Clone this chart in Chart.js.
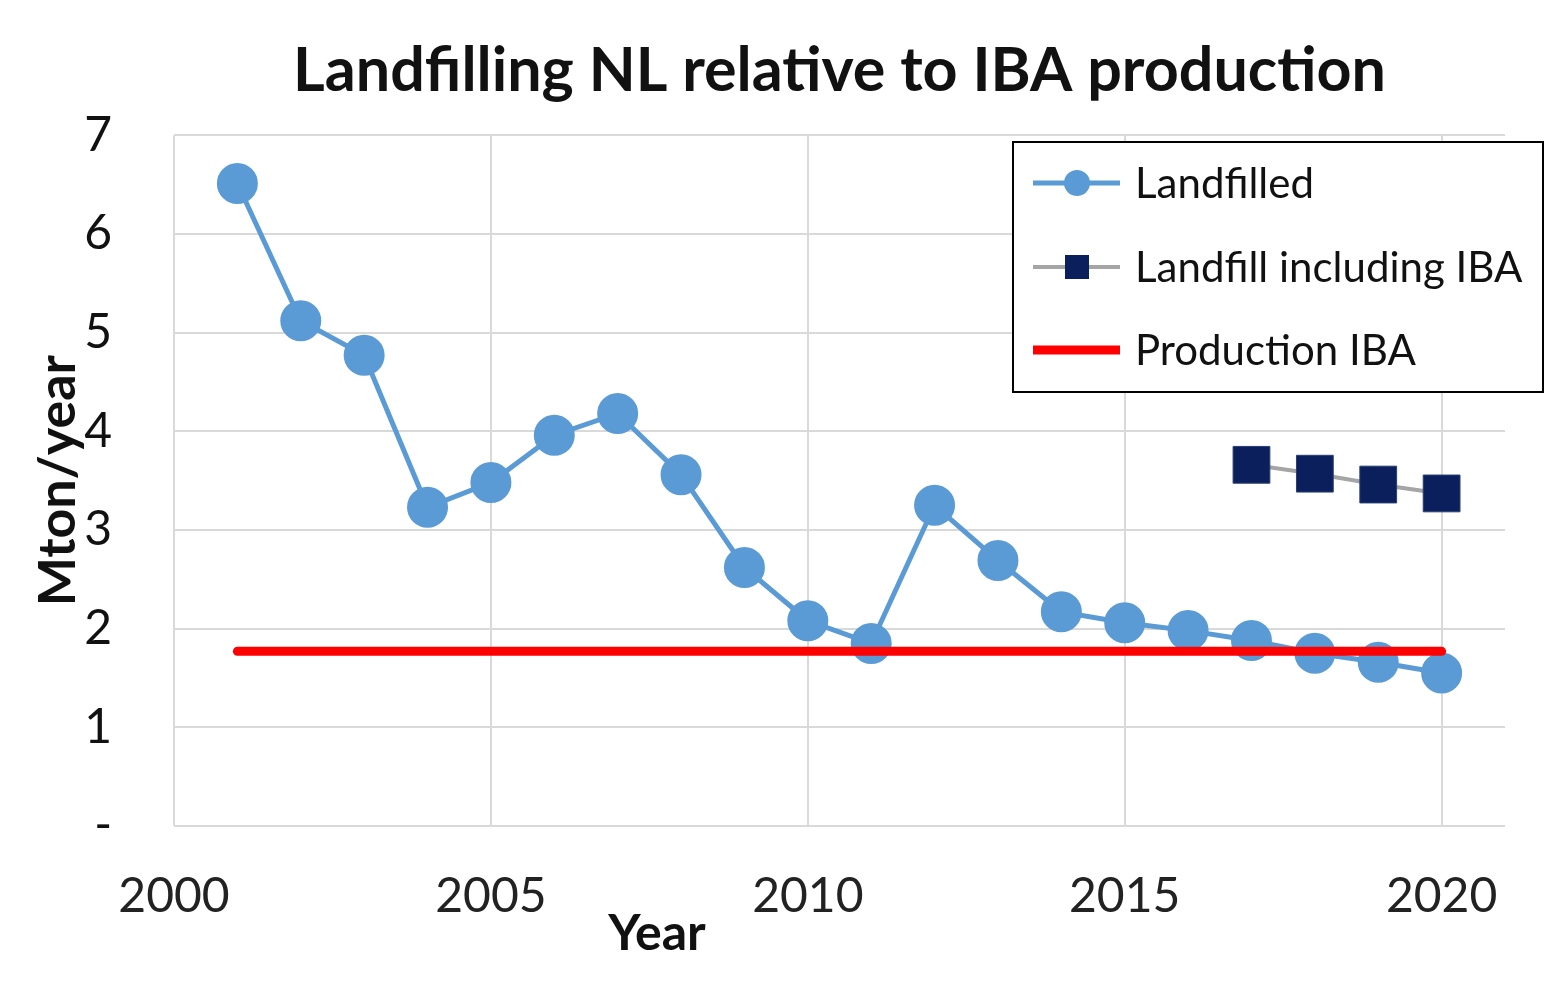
<!DOCTYPE html>
<html>
<head>
<meta charset="utf-8">
<script src="https://cdn.jsdelivr.net/npm/chart.js@4.4.0/dist/chart.umd.min.js"></script>
<style>
  html, body { margin: 0; padding: 0; background: #fff; }
  #wrap { width: 1550px; height: 983px; position: relative; }
</style>
</head>
<body>
<div id="wrap"><canvas id="chart" width="1550" height="983"></canvas></div>
<script>
const years = [2001, 2002, 2003, 2004, 2005, 2006, 2007, 2008, 2009, 2010,
               2011, 2012, 2013, 2014, 2015, 2016, 2017, 2018, 2019, 2020];
const landfilled = [6.51, 5.12, 4.77, 3.23, 3.48, 3.96, 4.18, 3.56, 2.62, 2.08,
                    1.85, 3.25, 2.69, 2.17, 2.06, 1.98, 1.88, 1.75, 1.66, 1.55];
const inclYears = [2017, 2018, 2019, 2020];
const landfillInclIBA = [3.66, 3.57, 3.46, 3.37];
const productionYears = [2001, 2020];
const productionIBA = [1.77, 1.77];
const xTicks = [2000, 2005, 2010, 2015, 2020];

const FONT = 'Lato, "Liberation Sans", sans-serif';
const pts = (xs, ys) => xs.map((x, i) => ({ x, y: ys[i] }));

// legend drawn by hand so it gets the boxed look of the original
const boxLegend = {
  id: 'boxLegend',
  afterDraw(chart) {
    const ctx = chart.ctx;
    const x = 1013, y = 142, w = 530, h = 250;
    ctx.save();
    ctx.fillStyle = '#fff';
    ctx.fillRect(x, y, w, h);
    ctx.strokeStyle = '#000';
    ctx.lineWidth = 2;
    ctx.strokeRect(x, y, w, h);
    const rows = [183, 267, 350];
    chart.data.datasets.forEach((ds, i) => {
      const ry = rows[i];
      ctx.strokeStyle = ds.borderColor;
      ctx.lineWidth = ds.borderWidth;
      ctx.beginPath();
      ctx.moveTo(1033, ry);
      ctx.lineTo(1120, ry);
      ctx.stroke();
      if (ds.pointStyle === 'circle') {
        ctx.fillStyle = ds.pointBackgroundColor;
        ctx.beginPath();
        ctx.arc(1077, ry, 13, 0, Math.PI * 2);
        ctx.fill();
      } else if (ds.pointStyle === 'rect') {
        ctx.fillStyle = ds.pointBackgroundColor;
        ctx.fillRect(1065, ry - 12, 24, 24);
      }
      ctx.fillStyle = '#111';
      ctx.font = '42px ' + FONT;
      ctx.textBaseline = 'middle';
      ctx.textAlign = 'left';
      ctx.fillText(ds.label, 1135, ry + 1);
    });
    // x axis title, sits left of centre as in the original
    ctx.font = 'bold 50px ' + FONT;
    ctx.textAlign = 'center';
    ctx.fillStyle = '#111';
    ctx.fillText('Year', 657, 934);
    ctx.restore();
  }
};

new Chart(document.getElementById('chart'), {
  type: 'line',
  data: {
    datasets: [
      {
        label: 'Landfilled',
        data: pts(years, landfilled),
        borderColor: '#5B9BD5',
        backgroundColor: '#5B9BD5',
        pointBackgroundColor: '#5B9BD5',
        pointBorderColor: '#5B9BD5',
        borderWidth: 5,
        pointStyle: 'circle',
        pointRadius: 18,
        order: 2
      },
      {
        label: 'Landfill including IBA',
        data: pts(inclYears, landfillInclIBA),
        borderColor: '#A5A5A5',
        backgroundColor: '#0B1F5C',
        pointBackgroundColor: '#0B1F5C',
        pointBorderColor: '#2A3F73',
        pointBorderWidth: 1,
        borderWidth: 4,
        pointStyle: 'rect',
        pointRadius: 26,
        order: 1
      },
      {
        label: 'Production IBA',
        data: pts(productionYears, productionIBA),
        borderColor: '#FF0000',
        backgroundColor: '#FF0000',
        borderWidth: 9,
        borderCapStyle: 'round',
        pointRadius: 0,
        pointStyle: false,
        order: 0
      }
    ]
  },
  options: {
    responsive: false,
    animation: false,
    layout: { padding: { left: 0, right: 45, top: 0, bottom: 0 } },
    plugins: {
      legend: { display: false },
      tooltip: { enabled: false },
      title: {
        display: true,
        fullSize: false,
        text: 'Landfilling NL relative to IBA production',
        color: '#111',
        font: { family: FONT, size: 61, weight: 'bold' },
        padding: { top: 35, bottom: 27 }
      }
    },
    scales: {
      x: {
        type: 'linear',
        min: 2000,
        max: 2021,
        afterBuildTicks: s => { s.ticks = xTicks.map(v => ({ value: v })); },
        afterFit: s => { s.height = 157; },
        ticks: {
          color: '#222',
          font: { family: FONT, size: 48 },
          padding: 42,
          maxRotation: 0,
          callback: v => String(v)
        },
        grid: { color: '#D9D9D9', lineWidth: 2, drawTicks: false },
        border: { display: false }
      },
      y: {
        min: 0,
        max: 7,
        afterFit: s => { s.width = 174; },
        ticks: {
          stepSize: 1,
          color: '#111',
          font: { family: FONT, size: 48 },
          padding: 62,
          callback: v => (v === 0 ? '-' : String(v))
        },
        title: {
          display: true,
          text: 'Mton/year',
          color: '#111',
          font: { family: FONT, size: 52, weight: 'bold' },
          padding: { top: 27, bottom: 0 }
        },
        grid: { color: '#D9D9D9', lineWidth: 2, drawTicks: false },
        border: { display: false }
      }
    }
  },
  plugins: [boxLegend]
});
</script>
</body>
</html>
